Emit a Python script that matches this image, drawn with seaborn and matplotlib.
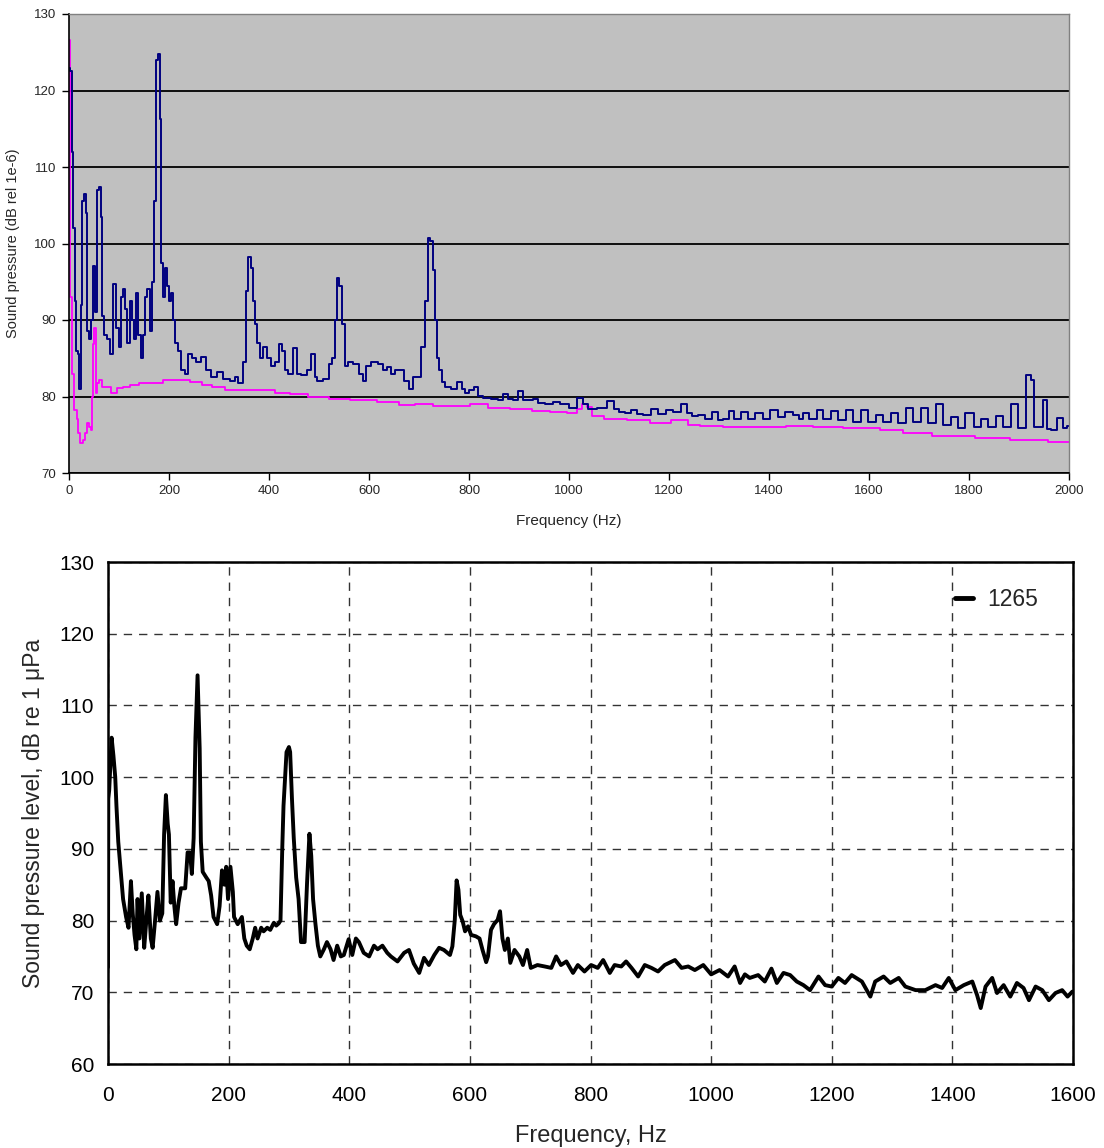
import numpy as np
import pandas as pd
import matplotlib
matplotlib.use("Agg")
import matplotlib.pyplot as plt
import seaborn as sns

# ---------------- data: top panel ----------------
top_blue_freq = [0, 4, 7, 10, 13, 16, 19, 22, 25, 27, 32, 35, 37, 41, 45, 50, 54, 59, 62, 65,
                 67, 72, 79, 85, 92, 97, 101, 105, 110, 114, 119, 123, 127, 131, 135, 141, 145,
                 150, 154, 159, 163, 167, 171, 175, 180, 183, 186, 189, 194, 199, 202, 205, 209,
                 215, 222, 227, 235, 241, 249, 259, 270, 277, 289, 302, 315, 329, 335, 342, 352,
                 355, 361, 365, 370, 374, 379, 383, 392, 399, 407, 415, 423, 429, 434, 442, 452,
                 459, 470, 480, 489, 494, 499, 515, 524, 529, 534, 538, 543, 549, 554, 562, 575,
                 585, 591, 598, 611, 625, 631, 642, 647, 655, 665, 675, 685, 691, 700, 708, 715,
                 720, 725, 729, 735, 738, 742, 749, 755, 772, 781, 789, 795, 805, 814, 822, 835,
                 852, 862, 872, 882, 892, 903, 912, 922, 934, 942, 962, 972, 992, 1009, 1022,
                 1032, 1042, 1069, 1083, 1095, 1105, 1119, 1129, 1142, 1155, 1172, 1185, 1202,
                 1215, 1232, 1239, 1252, 1265, 1279, 1292, 1302, 1315, 1323, 1335, 1352, 1362,
                 1382, 1392, 1412, 1425,
                 1439, 1455, 1465, 1472, 1489, 1502, 1515, 1532, 1545, 1562, 1575, 1592, 1605,
                 1622, 1635, 1652, 1665, 1682, 1695, 1712, 1725, 1742, 1755, 1772, 1782, 1803,
                 1815, 1832, 1845, 1861, 1875, 1891, 1905, 1921, 1927, 1932, 1945, 1952, 1959,
                 1969, 1982, 1992, 2000]
top_blue_spl = [123, 122.6, 112, 102, 92.5, 86, 85.5, 81, 92, 105.5, 106.5, 104, 88.5, 87.5, 90,
                97, 91, 107, 107.4, 103.5, 90.5, 88, 87.5, 85.5, 94.7, 89, 86.5, 93, 94, 91.5, 87,
                92.5, 90, 87.5, 93.5, 88, 85, 88, 93, 94, 88.5, 95, 105.5, 124, 124.8, 116.3,
                97.5, 93, 96.8, 94.5, 92.5, 93.5, 90, 87, 86, 83.5, 83, 85.5, 85, 84.5, 85.2,
                83.5, 82.5, 83.2, 82.3, 82, 82.5, 81.7, 84.5, 93.8, 98.3, 96.8, 92.5, 89.5, 87,
                85, 86.5, 85, 84, 84.5, 86.8, 86, 83.5, 83, 86.3, 83, 82.8, 83.5, 85.5, 82.5, 82,
                82.3, 84.3, 85, 90, 95.5, 94.5, 89.5, 84, 84.5, 84.2, 83, 82, 84, 84.5, 84.3,
                83.5, 83.8, 83, 83.5, 83.4, 82, 81, 82.5, 82.5, 86.5, 92.5, 100.7, 100.3, 96.5,
                90, 85, 83.4, 81.9, 81.2, 81, 81.9, 81, 80.4, 80.8, 81.2, 80.1, 79.8,
                79.7, 79.6, 80.3, 79.7, 79.5, 80.7, 79.6, 79.5, 79.7, 79.1, 79, 79.3, 79, 78.5,
                79.8, 79, 78.4, 78.5, 79.4, 78.4, 78, 77.8, 78.2, 77.7, 77.6, 78.4, 77.7, 78.2,
                78, 79, 77.8, 77.4, 77.6, 77.1, 78, 76.9, 77, 78.1, 77, 78, 77,
                77.8, 77, 78.2, 77.3,
                78, 77.6, 77,
                77.9, 77, 78.3, 77, 78.1, 76.9, 78.3, 76.7, 78.3, 76.7, 77.6, 76.7, 77.8, 76.6,
                78.5, 76.7, 78.5, 76.5, 79, 76.3, 77.3, 75.9, 77.8, 76, 77, 76, 77.5, 76, 79,
                75.9, 82.8, 82.2, 76, 76, 79.5, 75.7, 75.6, 77.2, 75.9, 76.2]

top_mag_freq = [0, 2, 3, 7, 13, 17, 20, 25, 29, 34, 37, 42, 45, 48, 49, 52, 54, 57, 62, 69, 79,
                89, 102, 115, 129, 149, 175, 202, 229, 255, 275, 295, 329, 362, 395, 429, 455,
                500, 540, 582, 649, 669, 715, 742, 782, 822, 855, 909, 942, 982, 1009, 1022,
                1030, 1042, 1049, 1089, 1142, 1182, 1227, 1249, 1275, 1342, 1409, 1460, 1515,
                1582, 1662, 1675, 1775, 1849, 1915, 2000]
top_mag_spl = [126.6, 110, 93, 83, 78.2, 77, 75.2, 73.9, 74.3, 75.2, 76.5, 76, 75.6, 80, 86.9,
               88.9, 80.4, 81.7, 82.1, 81.3, 81.3, 80.5, 81.1, 81.2, 81.5, 81.7, 81.8, 82.1,
               82.1, 81.9, 81.5, 81.3, 80.9, 80.9, 80.8, 80.4, 80.3, 79.9, 79.7, 79.5, 79.3,
               78.9, 79, 78.8, 78.8, 79, 78.5, 78.4, 78.1, 78, 77.8, 78.4,
               79, 78.6, 77.5, 77.1, 76.9, 76.5, 76.9, 76.3, 76.2, 76, 76, 76.1, 76,
               75.9, 75.6, 75.2, 74.8, 74.6, 74.3, 74.1]

top_xticks = [0, 200, 400, 600, 800, 1000, 1200, 1400, 1600, 1800, 2000]
top_yticks = [70, 80, 90, 100, 110, 120, 130]

# ---------------- data: bottom panel ----------------
bot_freq = [0, 0.5, 2, 6, 9, 12, 14, 17, 21, 25, 30, 34, 38, 41, 44, 47, 49, 52, 56, 60, 64, 67,
            71, 74, 78, 82, 86, 90, 93, 96, 99, 101, 104, 107, 110, 113, 117, 121, 128, 132,
            136, 139, 142, 145, 148.5, 152, 154, 157, 163, 167, 171, 175, 181, 185, 189, 193,
            196, 199, 203, 207, 209, 215, 222, 226, 230, 235, 240, 244, 248, 254, 258, 264,
            269, 275, 279, 283, 286, 289, 291, 296, 300, 302, 305, 308, 312, 316, 320, 326,
            330, 334, 337, 340, 344, 348, 352, 358, 363, 369, 374, 380, 386, 391, 399, 405,
            411, 416, 424, 433, 441, 447, 455, 463, 469, 480, 491, 499, 507, 516, 524, 532,
            541, 549, 557, 567, 571, 575, 578, 581, 584, 588, 592, 597, 602, 610, 616, 621,
            627, 630, 635, 640, 646, 650, 654, 658, 663, 667, 674, 682, 688, 695, 701, 712,
            724, 735, 743, 751, 760, 771, 779, 790, 801, 812, 821, 832, 840, 851, 859, 868,
            879, 890, 901, 912, 923, 940, 951, 962, 973, 987, 1000, 1014, 1028, 1039, 1048,
            1056, 1064, 1078, 1089, 1100, 1109, 1120, 1131, 1142, 1153, 1164, 1178, 1189,
            1200, 1211, 1222, 1233, 1250, 1264, 1272, 1286, 1297, 1311, 1322, 1339, 1355,
            1372, 1383, 1394, 1405, 1419, 1433, 1441, 1447, 1455, 1466, 1474, 1485, 1496,
            1507, 1518, 1527, 1538, 1549, 1560, 1571, 1582, 1591, 1599]
bot_spl = [73.5, 97, 98.2, 105.5, 103, 100, 96, 91, 87, 83, 80.5, 79, 85.5, 81, 78, 76, 83,
           77.5, 83.8, 76.2, 80.5, 83.5, 77.5, 76.2, 80, 84, 80, 81, 92, 97.5, 93.5, 92, 82.5,
           85.5, 82, 79.5, 82.5, 84.5, 84.5, 89.5, 89.5, 86.5, 91.5, 105.5, 114.2, 104, 91,
           86.8, 86, 85.5, 83.5, 80.5, 79.5, 82, 87, 85, 87.5, 83, 87.5, 84, 80.5, 79.5, 80.5,
           77.5, 76.5, 76, 77.5, 79, 77.5, 79, 78.5, 79, 78.7, 79.7, 79.3, 79.6, 80, 90.3, 96,
           103.5, 104.2, 103.5, 97, 91.5, 86, 83, 77, 77, 85.2, 92.1, 89, 83, 79.5, 76.5, 75,
           76, 77, 76, 74.5, 76.5, 75, 75.2, 77.4, 75.2, 77.5, 77, 75.5, 75, 76.5, 76, 76.5,
           75.5, 75, 74.3, 75.5, 75.9, 74, 72.7, 74.8, 73.8, 75.2, 76.2, 75.9, 75.2, 76.4,
           80.1, 85.6, 84.3, 80.8, 79.9, 78.5, 79.2, 78, 77.8, 77.5, 75.9, 74.2, 75, 78.7,
           79.5, 80.1, 81.3, 77.5, 75.9, 77.5, 74.1, 75.9, 75, 73.8, 75.9, 73.4, 73.8, 73.6,
           73.4, 75, 73.8, 74.3, 72.7, 73.8, 72.9, 73.8, 73.4, 74.5, 72.7, 73.8, 73.6, 74.3,
           73.4, 72.2, 73.8, 73.4, 72.9, 73.8, 74.5, 73.4, 73.6, 73.1, 73.8, 72.5, 73.1, 72.2,
           73.6, 71.3, 72.5, 72, 72.4, 71.5, 73.3, 71.3, 72.7, 72.4, 71.5, 71, 70.3, 72.2, 71,
           70.8, 72, 71.3, 72.4, 71.5, 69.4, 71.5, 72.2, 71.3, 72, 70.8, 70.3, 70.3, 71, 70.6,
           72, 70.3, 71, 71.5, 69.6, 67.8, 70.8, 72, 69.9, 71, 69.4, 71.3, 70.6, 68.9, 70.8,
           70.3, 68.9, 69.9, 70.3, 69.4, 70.1]
bot_label = "1265"
bot_xticks = [0, 200, 400, 600, 800, 1000, 1200, 1400, 1600]
bot_yticks = [60, 70, 80, 90, 100, 110, 120, 130]

# ---------------- figure ----------------
sns.set_theme(style="white")
plt.rcParams["font.family"] = ["Liberation Sans", "DejaVu Sans"]

W, H = 1104, 1148
fig = plt.figure(figsize=(W / 100, H / 100), dpi=100)

# ---- top panel (Excel-like) ----
ax1 = fig.add_axes([69 / W, 1 - 473 / H, 1000 / W, 459 / H])
ax1.set_facecolor("#C0C0C0")
df_b = pd.DataFrame({"f": top_blue_freq, "spl": top_blue_spl})
df_m = pd.DataFrame({"f": top_mag_freq, "spl": top_mag_spl})
sns.lineplot(data=df_m, x="f", y="spl", ax=ax1, color="#FF00FF", lw=1.3,
             estimator=None, sort=False, drawstyle="steps-mid")
sns.lineplot(data=df_b, x="f", y="spl", ax=ax1, color="#000080", lw=1.4,
             estimator=None, sort=False, drawstyle="steps-mid")
ax1.set_xlim(0, 2000)
ax1.set_ylim(70, 130)
ax1.set_xticks(top_xticks)
ax1.set_yticks(top_yticks)
ax1.yaxis.grid(True, color="black", lw=1.3)
ax1.xaxis.grid(False)
ax1.set_axisbelow(True)
small_font = ["Liberation Sans Narrow", "Liberation Sans", "DejaVu Sans"]
ax1.set_xticklabels([str(t) for t in top_xticks], family=small_font, fontsize=9.5)
ax1.set_yticklabels([str(t) for t in top_yticks], family=small_font, fontsize=9.5)
ax1.tick_params(axis="both", direction="out", length=5, width=1, color="black",
                bottom=True, left=True, pad=4)
for s in ["left", "bottom"]:
    ax1.spines[s].set_color("black")
    ax1.spines[s].set_linewidth(1.2)
for s in ["top", "right"]:
    ax1.spines[s].set_color("#808080")
    ax1.spines[s].set_linewidth(1.0)
ax1.set_xlabel("Frequency (Hz)", family=small_font, fontsize=11, labelpad=12)
ax1.set_ylabel("Sound pressure (dB rel 1e-6)", family=small_font, fontsize=10.5, labelpad=10)

# ---- bottom panel ----
ax2 = fig.add_axes([108 / W, 1 - 1064 / H, 965 / W, 502 / H])
ax2.set_facecolor("white")
df_k = pd.DataFrame({"f": bot_freq, "spl": bot_spl, "series": bot_label})
sns.lineplot(data=df_k, x="f", y="spl", hue="series", palette=["black"], ax=ax2,
             lw=2.8, estimator=None, sort=False)
ax2.set_xlim(0, 1600)
ax2.set_ylim(60, 130)
ax2.set_xticks(bot_xticks)
ax2.set_yticks(bot_yticks)
ax2.grid(True, color="#333333", lw=1.0, linestyle=(0, (6, 5)))
ax2.tick_params(axis="both", length=0, labelsize=15, colors="black")
ax2.tick_params(axis="x", pad=16)
ax2.tick_params(axis="y", pad=10)
for s in ax2.spines.values():
    s.set_color("black")
    s.set_linewidth(1.8)
ax2.set_xlabel("Frequency, Hz", fontsize=17, labelpad=14)
ax2.set_ylabel("Sound pressure level, dB re 1 μPa", fontsize=16.5, labelpad=10)
leg = ax2.legend(loc="upper right", frameon=False, fontsize=16.5, handlelength=0.8,
                 handletextpad=0.6, bbox_to_anchor=(0.985, 0.99))
for h in leg.get_lines():
    h.set_linewidth(3.5)

fig.savefig("out.png", dpi=100)
